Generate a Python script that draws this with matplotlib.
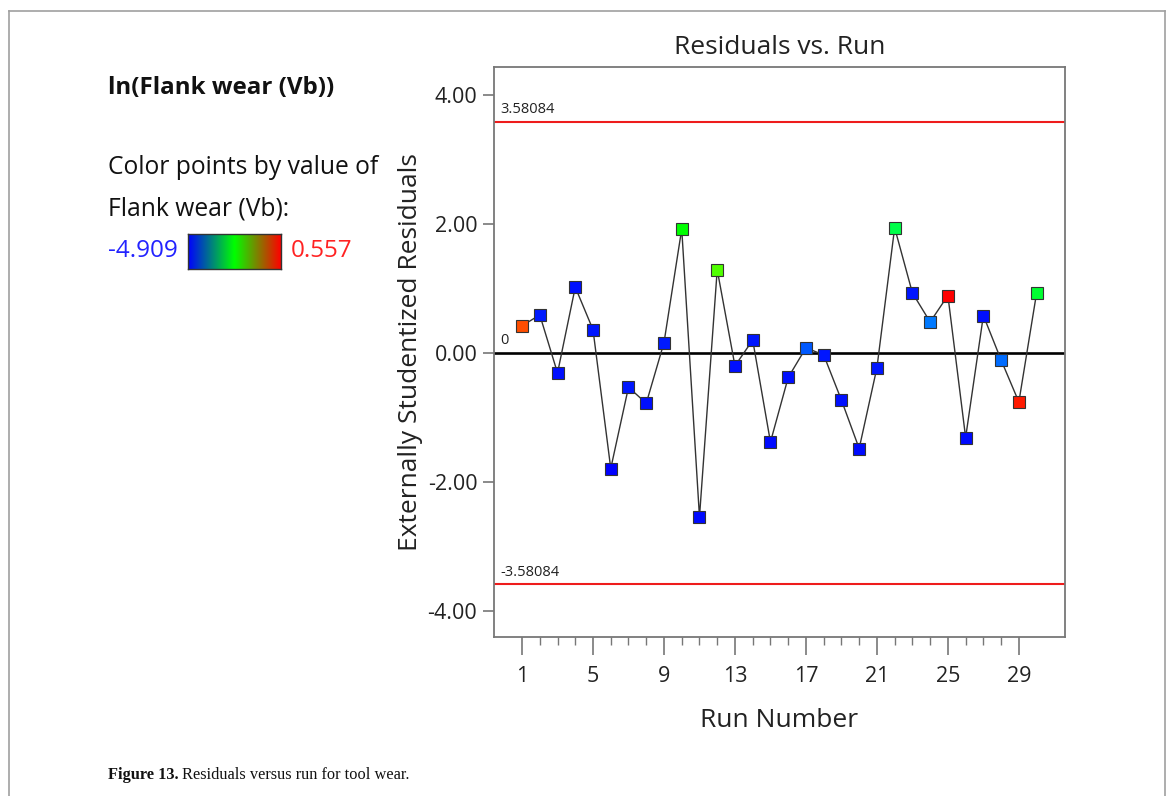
import numpy as np
import matplotlib
matplotlib.use("Agg")
import matplotlib.pyplot as plt
from matplotlib.colors import LinearSegmentedColormap, Normalize
from matplotlib.lines import Line2D
from matplotlib.ticker import FixedLocator

plt.rcParams["font.family"] = ["Open Sans", "DejaVu Sans"]

# ── Data ─────────────────────────────────────────────────────────────────────
runs = np.arange(1, 31)
residuals = [0.42, 0.59, -0.31, 1.02, 0.36, -1.79, -0.53, -0.78, 0.16, 1.92,
             -2.54, 1.29, -0.20, 0.20, -1.38, -0.38, 0.08, -0.03, -0.73, -1.48,
             -0.23, 1.94, 0.93, 0.48, 0.89, -1.31, 0.58, -0.11, -0.76, 0.93]
# ln(Vb) used to colour each run
ln_vb = [-0.10, -4.64, -4.75, -4.75, -4.69, -4.909, -4.69, -4.75, -4.64, -2.18,
         -4.80, -1.52, -4.75, -4.69, -4.80, -4.75, -4.20, -4.69, -4.75, -4.80,
         -4.69, -2.78, -4.69, -4.03, 0.557, -4.80, -4.75, -4.09, 0.28, -2.61]
limit = 3.58084
vb_min, vb_max = -4.909, 0.557
y_ticks = [-4, -2, 0, 2, 4]
x_major = [1, 5, 9, 13, 17, 21, 25, 29]

cmap = LinearSegmentedColormap.from_list("bgr", ["#0000FF", "#00FF00", "#FF0000"])
norm = Normalize(vb_min, vb_max)


def point_color(v):
    rgb = np.array(cmap(norm(v))[:3])
    return rgb / rgb.max()  # full brightness for markers


# ── Figure ───────────────────────────────────────────────────────────────────
W, H = 1168, 796
fig = plt.figure(figsize=(W / 100, H / 100), dpi=100)
fig.patch.set_facecolor("white")


def fx(px):
    return px / W


def fy(py):
    return 1 - py / H


# page frame
frame = dict(color="#a0a0a0", linewidth=1.2, transform=fig.transFigure)
fig.add_artist(Line2D([fx(9), fx(9)], [fy(11), 0], **frame))
fig.add_artist(Line2D([fx(9), fx(1165)], [fy(11), fy(11)], **frame))
fig.add_artist(Line2D([fx(1165), fx(1165)], [fy(11), 0], **frame))

ax = fig.add_axes([fx(494), fy(637), fx(1065 - 494), (637 - 67) / H])
ax.set_xlim(-0.58, 31.6)
ax.set_ylim(-4.40, 4.43)

ax.axhline(limit, color="#ee1c1c", linewidth=1.5, zorder=1)
ax.axhline(-limit, color="#ee1c1c", linewidth=1.5, zorder=1)
ax.axhline(0, color="black", linewidth=1.9, zorder=1)

ax.plot(runs, residuals, color="#333333", linewidth=1.0, zorder=2)
for r, v, c in zip(runs, residuals, ln_vb):
    ax.plot(r, v, marker="s", markersize=9, markerfacecolor=point_color(c),
            markeredgecolor="#333333", markeredgewidth=0.8, zorder=3)

lbl = dict(fontsize=10.5, color="#222222", ha="left", va="bottom")
ax.text(-0.22, limit + 0.07, "3.58084", **lbl)
ax.text(-0.22, -limit + 0.07, "-3.58084", **lbl)
ax.text(-0.22, 0.07, "0", **lbl)

ax.set_yticks(y_ticks)
ax.set_yticklabels([f"{t:.2f}" for t in y_ticks])
ax.xaxis.set_major_locator(FixedLocator(x_major))
ax.xaxis.set_minor_locator(FixedLocator([i for i in range(2, 29) if i not in x_major]))
ax.tick_params(axis="both", which="major", labelsize=15.5, colors="#777777",
               labelcolor="#222222", direction="out", width=1.2)
ax.tick_params(axis="y", length=8, pad=4)
ax.tick_params(axis="x", which="major", length=13, pad=8)
ax.tick_params(axis="x", which="minor", length=6, width=1.0, colors="#777777")

for s in ax.spines.values():
    s.set_color("#777777")
    s.set_linewidth(1.3)

ax.set_title("Residuals vs. Run", fontsize=19, color="#222222", pad=9)
ax.set_xlabel("Run Number", fontsize=19, color="#222222", labelpad=15)
ax.set_ylabel("Externally Studentized Residuals", fontsize=19,
              color="#222222", labelpad=3)

# ── Left-hand colour legend ──────────────────────────────────────────────────
fig.text(fx(108), fy(88), "ln(Flank wear (Vb))", fontsize=17.4,
         fontweight="bold", va="center", color="#111111")
fig.text(fx(108), fy(168), "Color points by value of", fontsize=17.7,
         va="center", color="#111111")
fig.text(fx(108), fy(209), "Flank wear (Vb):", fontsize=17.7,
         va="center", color="#111111")
fig.text(fx(108), fy(251), f"{vb_min:.3f}", fontsize=17.5, va="center",
         color="#2222ff")
fig.text(fx(291), fy(251), f"{vb_max:.3f}", fontsize=17.5, va="center",
         color="#ff2222")

cax = fig.add_axes([fx(188), fy(269), fx(93), 35 / H])
cax.imshow(np.linspace(0, 1, 256)[None, :], aspect="auto", cmap=cmap)
cax.set_xticks([])
cax.set_yticks([])
for s in cax.spines.values():
    s.set_color("#333333")
    s.set_linewidth(1.0)

# ── Caption ──────────────────────────────────────────────────────────────────
cap = dict(fontsize=11.8, family="Liberation Serif", va="center", color="#111111")
t1 = fig.text(fx(108), fy(775), "Figure 13.", fontweight="bold", **cap)
renderer = fig.canvas.get_renderer()
bb = t1.get_window_extent(renderer)
fig.text(bb.x1 / W + 0.003, fy(775), "Residuals versus run for tool wear.", **cap)

fig.savefig("out.png", dpi=100)
